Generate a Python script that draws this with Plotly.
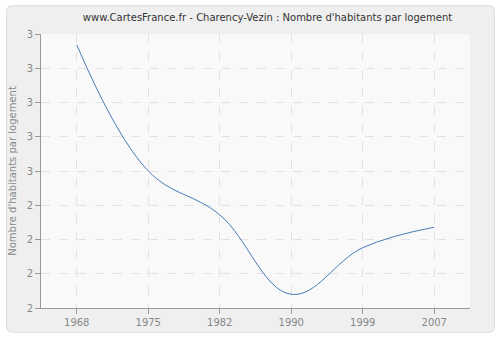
import re
import plotly.graph_objects as go

years = ["1968", "1975", "1982", "1990", "1999", "2007"]
values = [2.96, 2.50, 2.34, 2.05, 2.22, 2.295]
y_tick_vals = [2.0, 2.125, 2.25, 2.375, 2.5, 2.625, 2.75, 2.875, 3.0]
y_tick_text = ["2", "2", "2", "2", "3", "3", "3", "3", "3"]

title = "www.CartesFrance.fr - Charency-Vezin : Nombre d'habitants par logement"
y_title = "Nombre d'habitants par logement"

fig = go.Figure()
fig.add_trace(go.Scatter(
    x=years, y=values, mode="lines",
    line=dict(color="#4a7ab5", width=1, shape="spline", smoothing=1.1),
    hoverinfo="x+y",
))

W, H = 500, 340
ml, mr, mt, mb = 40, 30, 34, 30
pw, ph = W - ml - mr, H - mt - mb

def px2paper_x(px):
    return (px - ml) / pw

def px2paper_y(py):
    return (H - mb - py) / ph

x0, x1, y0, y1, r = 5.5, 494.5, 5.5, 334.5, 6
path = (f"M {x0+r},{y0} L {x1-r},{y0} Q {x1},{y0} {x1},{y0+r} L {x1},{y1-r} "
        f"Q {x1},{y1} {x1-r},{y1} L {x0+r},{y1} Q {x0},{y1} {x0},{y1-r} "
        f"L {x0},{y0+r} Q {x0},{y0} {x0+r},{y0} Z")

def conv(m):
    a, b = float(m.group(1)), float(m.group(2))
    return f"{px2paper_x(a):.5f},{px2paper_y(b):.5f}"

path_paper = re.sub(r"([\d.]+),([\d.]+)", conv, path)

fig.add_shape(type="path", path=path_paper, xref="paper", yref="paper",
              fillcolor="#efefef", line=dict(color="#dcdcdc", width=1), layer="below")
fig.add_shape(type="rect", xref="paper", yref="paper", x0=0, x1=1, y0=0, y1=1,
              fillcolor="#f9f9f9", line=dict(width=0), layer="below")

font_family = "DejaVu Sans, Verdana, sans-serif"
fig.update_layout(
    width=W, height=H,
    margin=dict(l=ml, r=mr, t=mt, b=mb),
    paper_bgcolor="white",
    plot_bgcolor="#f9f9f9",
    showlegend=False,
    title=dict(text=title, xref="paper", x=px2paper_x(267), xanchor="center",
               y=1 - 17 / H, yanchor="middle",
               font=dict(family=font_family, size=10, color="#333333")),
    font=dict(family=font_family, size=10, color="#888888"),
    xaxis=dict(
        type="category", range=[-0.5, 5.5],
        showgrid=True, gridcolor="#e2e2e2", griddash="dash", gridwidth=1,
        showline=True, linecolor="#999999", linewidth=1,
        ticks="outside", ticklen=5, tickcolor="#999999",
        tickfont=dict(size=10, color="#888888"),
        zeroline=False, fixedrange=True,
    ),
    yaxis=dict(
        range=[2.0, 3.0],
        tickvals=y_tick_vals, ticktext=y_tick_text,
        showgrid=True, gridcolor="#e2e2e2", griddash="dash", gridwidth=1,
        showline=True, linecolor="#999999", linewidth=1,
        ticks="outside", ticklen=5, tickcolor="#999999",
        tickfont=dict(size=10, color="#888888"),
        title=dict(text=y_title, font=dict(size=10, color="#888888"), standoff=8),
        zeroline=False, fixedrange=True,
    ),
)

fig.write_html("out.html")
